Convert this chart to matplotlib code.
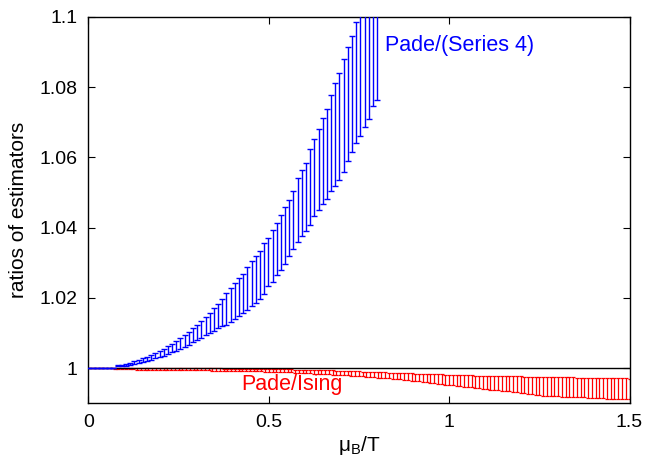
import numpy as np
import matplotlib
matplotlib.use('Agg')
import matplotlib.pyplot as plt

plt.rcParams['font.family'] = ['Liberation Sans', 'DejaVu Sans']
plt.rcParams['mathtext.default'] = 'regular'

# blue: Pade/(Series 4), bar ends given as offsets from 1 in units of 1e-4
blue_x = np.arange(0, 70) * 0.0116
blue_lo_dev = [0, 0, 0, 0, 0, 0, 0,
               5, 6, 7, 10, 12, 15, 18, 21, 24, 28,
               32, 36, 40, 45, 50, 55, 61, 67, 74, 80,
               86, 93, 100, 107, 114, 120, 123, 130, 140, 148,
               156, 165, 176, 186, 196, 210, 234, 246, 264, 280,
               296, 320, 340, 360, 375, 390, 407, 432, 450, 466,
               480, 505, 518, 535, 558, 590, 615, 640, 660, 685,
               710, 745, 762]
blue_hi_dev = [0, 0, 0, 0, 0, 0, 0,
               8, 10, 12, 16, 20, 24, 28, 32, 37, 43,
               49, 55, 62, 69, 77, 85, 94, 103, 115, 123,
               133, 145, 158, 171, 183, 198, 215, 229, 242, 256,
               269, 289, 305, 320, 334, 355, 370, 393, 413, 437,
               458, 478, 505, 540, 563, 585, 625, 652, 680, 712,
               738, 778, 812, 840, 880, 915, 945, 985, 1025, 1065,
               1105, 1150, 1195]

# red: Pade/Ising, bar ends given as deficits below 1 in units of 1e-4
red_x = np.linspace(0, 1.5, 145)
red_lo_dev = [0, 0, 0, 0, 0, 0, 0,
              2.6, 2.8, 3.0, 3.2, 3.4, 3.6,
              3.8, 4.0, 4.1, 4.2, 4.3, 4.4, 4.5, 4.6, 4.7, 4.8, 4.9, 5.0,
              5.2, 5.4, 5.6, 5.8, 6.0, 6.2, 6.4, 6.6, 6.8, 7.0, 7.2, 7.4,
              7.6, 7.8, 8.0, 8.2, 8.4, 8.6, 8.8, 9.0, 9.2, 9.4, 9.6, 9.8,
              10.1, 10.4, 10.8, 11.2, 11.6, 12.0, 12.5, 13.0, 13.5, 14.0, 14.6, 15.2,
              15.8, 16.4, 17.0, 17.6, 18.2, 18.8, 19.4, 20.0, 20.6, 21.3, 22.0, 22.8,
              23.6, 24.4, 25.2, 26.0, 26.8, 27.6, 28.4, 29.2, 30.0, 30.9, 31.8, 32.7,
              34.0, 35.2, 36.4, 37.6, 38.8, 40.0, 41.3, 42.6, 43.9, 45.2, 46.5, 47.8,
              49.0, 50.2, 51.4, 52.6, 53.8, 55.0, 56.2, 57.4, 58.5, 59.6, 60.7, 61.8,
              62.9, 64.0, 65.1, 66.3, 67.5, 68.7, 70.0, 71.4, 72.8, 74.2, 75.6, 77.0,
              78.0, 78.8, 79.4, 79.8, 80.3, 81.0, 81.8, 82.6, 83.0, 82.8, 82.6, 83.2,
              84.0, 84.8, 85.2, 85.0, 85.6, 86.5, 87.3, 87.9, 88.2, 88.3, 88.2, 88.0]
red_hi_dev = [0, 0, 0, 0, 0, 0, 0,
              0.0, 0.0, 0.0, 0.1, 0.1, 0.1,
              0.1, 0.1, 0.2, 0.2, 0.2, 0.2, 0.3, 0.3, 0.3, 0.3, 0.4, 0.4,
              0.4, 0.5, 0.5, 0.6, 0.6, 0.7, 0.7, 0.8, 0.8, 0.9, 0.9, 1.0,
              1.1, 1.2, 1.3, 1.4, 1.5, 1.6, 1.7, 1.8, 1.9, 2.0, 2.2, 2.4,
              2.6, 2.8, 3.0, 3.2, 3.4, 3.6, 3.8, 4.0, 4.2, 4.5, 4.8, 5.1,
              5.4, 5.7, 6.0, 6.3, 6.6, 6.9, 7.2, 7.6, 8.0, 8.4, 8.8, 9.2,
              9.6, 10.0, 10.4, 10.8, 11.2, 11.6, 12.0, 12.4, 12.8, 13.2, 13.6, 14.0,
              14.4, 14.8, 15.2, 15.6, 16.0, 16.4, 16.8, 17.2, 17.6, 18.0, 18.4, 18.8,
              19.1, 19.4, 19.7, 20.0, 20.3, 20.6, 20.9, 21.2, 21.5, 21.8, 22.0, 22.2,
              22.4, 22.6, 22.8, 23.0, 23.2, 23.4, 23.6, 23.8, 24.0, 24.2, 24.4, 24.6,
              24.8, 25.0, 25.2, 25.4, 25.6, 25.8, 26.0, 26.2, 26.4, 26.6, 26.8, 27.0,
              27.2, 27.4, 27.6, 27.8, 28.0, 28.2, 28.4, 28.6, 28.8, 29.0, 29.2, 29.4]

x_ticks = [0, 0.5, 1, 1.5]
x_ticklabels = ['0', '0.5', '1', '1.5']
y_ticks = [1.0, 1.02, 1.04, 1.06, 1.08, 1.1]
y_ticklabels = ['1', '1.02', '1.04', '1.06', '1.08', '1.1']


def draw_bars(ax, x, lo, hi, color, z, lw=1.0, cap=2.0):
    lo = np.asarray(lo)
    hi = np.asarray(hi)
    mid = (lo + hi) / 2
    half = (hi - lo) / 2
    ax.errorbar(x, mid, yerr=half, fmt='none', ecolor=color, elinewidth=lw,
                capsize=cap, capthick=lw, zorder=z)


fig = plt.figure(figsize=(6.45, 4.58), dpi=100)
ax = fig.add_axes([0.137, 0.1194, 0.839, 0.8441])

red_lo = 1 - np.array(red_lo_dev) * 1e-4
red_hi = 1 - np.array(red_hi_dev) * 1e-4
blue_lo = 1 + np.array(blue_lo_dev) * 1e-4
blue_hi = 1 + np.array(blue_hi_dev) * 1e-4

draw_bars(ax, red_x, red_lo, red_hi, '#ff0000', 2, lw=0.9, cap=1.7)
ax.axhline(1.0, color='black', lw=1.0, zorder=2.5)
draw_bars(ax, blue_x, blue_lo, blue_hi, '#0000ff', 3, lw=1.0, cap=2.1)

ax.text(0.822, 1.0919, 'Pade/(Series 4)', color='#0000ff', fontsize=15.5, va='center', ha='left')
ax.text(0.425, 0.9953, 'Pade/Ising', color='#ff0000', fontsize=15.5, va='center', ha='left')

ax.set_xlim(0, 1.5)
ax.set_ylim(0.99, 1.1)
ax.set_xticks(x_ticks)
ax.set_xticklabels(x_ticklabels)
ax.set_yticks(y_ticks)
ax.set_yticklabels(y_ticklabels)
ax.tick_params(direction='in', length=5, width=0.8, top=True, right=True, labelsize=14, pad=8)
for s in ax.spines.values():
    s.set_linewidth(1.0)

ax.set_xlabel('μ$_{B}$/T', fontsize=15, labelpad=2)
ax.set_ylabel('ratios of estimators', fontsize=15, labelpad=8)

fig.savefig('out.png', dpi=100)
